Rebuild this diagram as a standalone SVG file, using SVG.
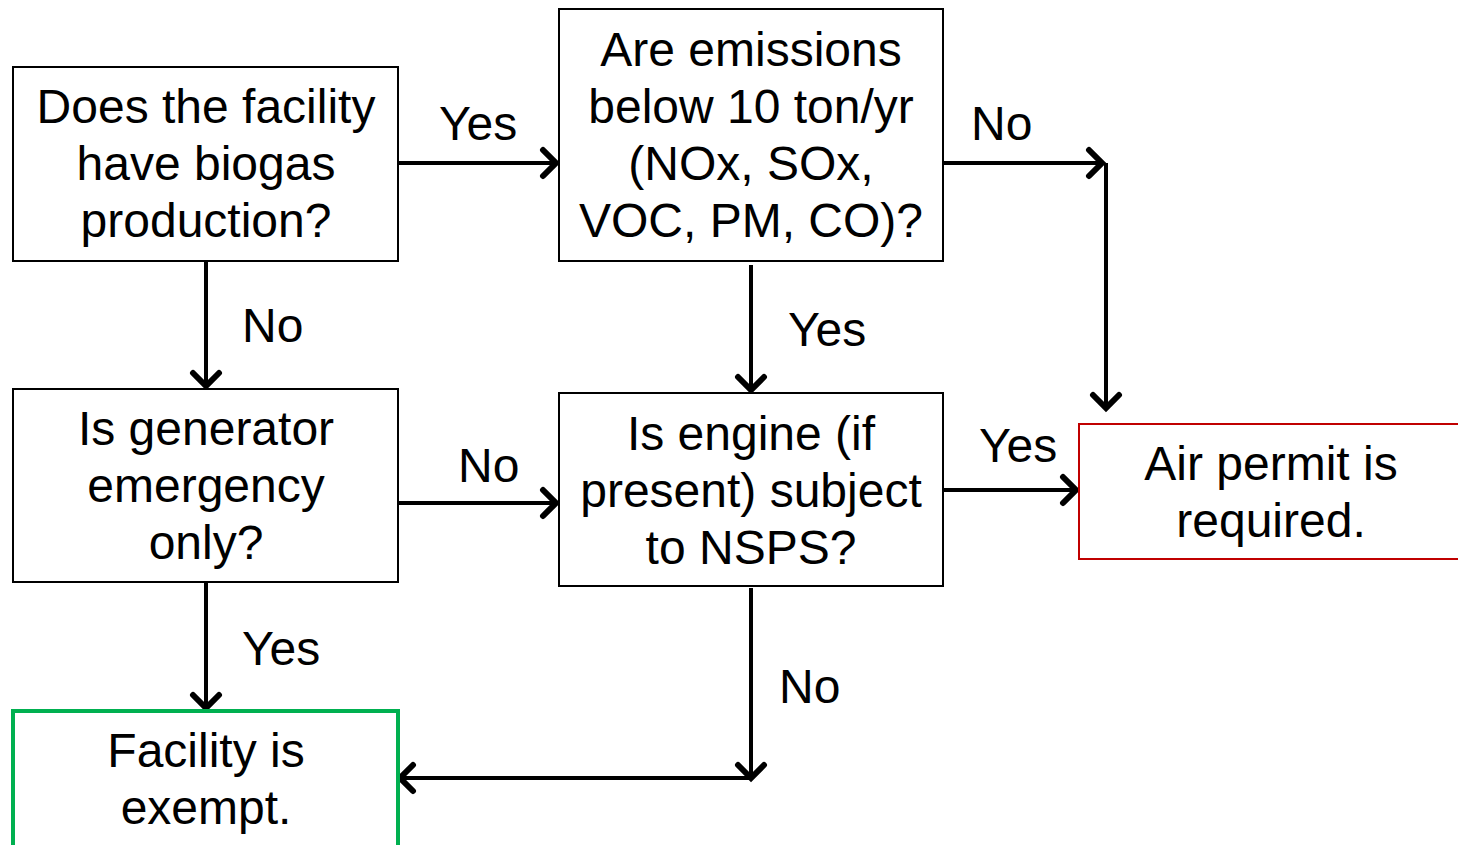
<svg xmlns="http://www.w3.org/2000/svg" width="1458" height="845" viewBox="0 0 1458 845">
<style>
.box{fill:#fff;stroke:#000;stroke-width:2}
.t{font-family:"Liberation Sans",Arial,sans-serif;font-size:48px;fill:#000;text-anchor:middle}
.l{font-family:"Liberation Sans",Arial,sans-serif;font-size:48px;fill:#000}
.c{fill:none;stroke:#000;stroke-width:4}
</style>
<defs>
<marker id="ah" markerUnits="userSpaceOnUse" markerWidth="34" markerHeight="34" refX="26" refY="17" orient="auto">
<path d="M13,4 L26,17 L13,30" fill="none" stroke="#000" stroke-width="6" stroke-linecap="round" stroke-linejoin="miter"/>
</marker>
</defs>
<rect width="1458" height="845" fill="#fff"/>
<g id="connectors">
<line class="c" x1="398" y1="163" x2="556" y2="163" marker-end="url(#ah)"/>
<line class="c" x1="943" y1="163" x2="1102" y2="163" marker-end="url(#ah)"/>
<line class="c" x1="1106" y1="163" x2="1106" y2="408" marker-end="url(#ah)"/>
<line class="c" x1="206" y1="262" x2="206" y2="386" marker-end="url(#ah)"/>
<line class="c" x1="751" y1="265" x2="751" y2="390" marker-end="url(#ah)"/>
<line class="c" x1="398" y1="503" x2="556" y2="503" marker-end="url(#ah)"/>
<line class="c" x1="943" y1="490" x2="1076" y2="490" marker-end="url(#ah)"/>
<line class="c" x1="206" y1="583" x2="206" y2="708" marker-end="url(#ah)"/>
<line class="c" x1="751" y1="588" x2="751" y2="778" marker-end="url(#ah)"/>
<line class="c" x1="751" y1="778" x2="400" y2="778" marker-end="url(#ah)"/>
<text class="l" x="439" y="140">Yes</text>
<text class="l" x="971" y="140">No</text>
<text class="l" x="242" y="342">No</text>
<text class="l" x="788" y="346">Yes</text>
<text class="l" x="458" y="482">No</text>
<text class="l" x="979" y="462">Yes</text>
<text class="l" x="242" y="665">Yes</text>
<text class="l" x="779" y="703">No</text>
</g>
<g id="n1">
<rect class="box" x="13" y="67" width="385" height="194"/>
<text class="t" x="206" y="123">Does the facility</text>
<text class="t" x="206" y="180">have biogas</text>
<text class="t" x="206" y="237">production?</text>
</g>
<g id="n2">
<rect class="box" x="559" y="9" width="384" height="252"/>
<text class="t" x="751" y="66">Are emissions</text>
<text class="t" x="751" y="123">below 10 ton/yr</text>
<text class="t" x="751" y="180">(NOx, SOx,</text>
<text class="t" x="751" y="237">VOC, PM, CO)?</text>
</g>
<g id="n3">
<rect class="box" x="13" y="389" width="385" height="193"/>
<text class="t" x="206" y="445">Is generator</text>
<text class="t" x="206" y="502">emergency</text>
<text class="t" x="206" y="559">only?</text>
</g>
<g id="n4">
<rect class="box" x="559" y="393" width="384" height="193"/>
<text class="t" x="751" y="450">Is engine (if</text>
<text class="t" x="751" y="507">present) subject</text>
<text class="t" x="751" y="564">to NSPS?</text>
</g>
<g id="n5">
<rect x="1079" y="424" width="400" height="135" fill="#fff" stroke="#C00000" stroke-width="2"/>
<text class="t" x="1271" y="480">Air permit is</text>
<text class="t" x="1271" y="537">required.</text>
</g>
<g id="n6">
<rect x="13" y="711" width="385" height="150" fill="#fff" stroke="#00B050" stroke-width="4"/>
<text class="t" x="206" y="767">Facility is</text>
<text class="t" x="206" y="824">exempt.</text>
</g>
</svg>
